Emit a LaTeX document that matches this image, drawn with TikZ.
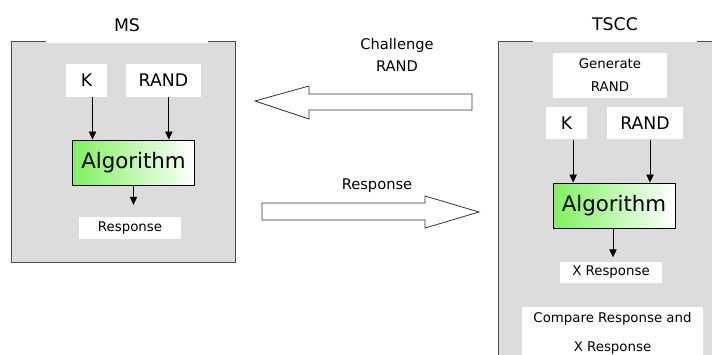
\documentclass[tikz,border=0pt]{standalone}
\usepackage{fontspec}
\setmainfont{DejaVu Sans}
\usetikzlibrary{positioning,arrows.meta}
\definecolor{framegray}{RGB}{220,220,220}
\definecolor{algogreen}{RGB}{128,240,96}
\tikzset{every picture/.style={line width=0.75pt}}
\tikzset{
    frame/.style={draw=black!70, fill=framegray},
    title/.style={fill=white, inner sep=0pt, minimum width=122pt, minimum height=27pt, font=\fontsize{13}{15}\selectfont},
    inbox/.style={fill=white, inner sep=0pt, minimum height=24.5pt, font=\fontsize{13}{15}\selectfont},
    algo/.style={draw, left color=algogreen, right color=white, inner sep=0pt, minimum width=92pt, minimum height=33.75pt, font=\fontsize{16}{18}\selectfont},
    outbox/.style={fill=white, inner sep=0pt, minimum width=76.5pt, minimum height=16pt, font=\fontsize{10}{12}\selectfont},
    msg/.style={align=center, font=\fontsize{11}{17}\selectfont},
    flow/.style={-{Triangle[length=6pt,width=5.5pt]}, line width=0.6pt},
    bigarrow/.style={draw=black!80, fill=white, line width=0.6pt}}

\begin{document}
\begin{tikzpicture}[x=0.75pt,y=0.75pt,yscale=-1,xscale=1]
            \useasboundingbox (0,0) rectangle (712,354);

            %MS side
            \draw[frame] (11,41) rectangle (235,262);
            \node[title] (ms) at (127,25) {MS};
            \node[inbox, minimum width=30.75pt] (msk) at (86.5,80.5) {K};
            \node[inbox, minimum width=56.25pt] (msrand) at (163.5,80.5) {RAND};
            \node[algo] (msalgo) at (133.5,162.5) {Algorithm};
            \node[outbox] (msresp) at (130,228) {Response};
            \draw[flow] ([xshift=4.5pt]msk.south) -- ([xshift=4.5pt]msk.south |- msalgo.north);
            \draw[flow] ([xshift=4pt]msrand.south) -- ([xshift=4pt]msrand.south |- msalgo.north);
            \draw[flow, shorten >=9pt] (msalgo.south) -- (msalgo.south |- msresp.north);

            %TSCC side
            \draw[frame] (498,41) rectangle (730,370);
            \node[title, minimum width=123pt] (tscc) at (615,24) {TSCC};
            \node[fill=white, inner sep=0pt, minimum width=85.5pt, minimum height=33.75pt, align=center, font=\fontsize{10}{17}\selectfont] (gen) at (610,75) {Generate\\RAND};
            \node[inbox, minimum width=30.75pt] (tk) at (566.5,123) {K};
            \node[inbox, minimum width=57pt] (trand) at (645,123) {RAND};
            \node[algo, minimum width=91.5pt] (talgo) at (614,205.5) {Algorithm};
            \node[outbox] (xresp) at (611,272.5) {X Response};
            \node[fill=white, inner sep=0pt, minimum width=135.75pt, minimum height=40pt, anchor=north, align=center, font=\fontsize{10}{21.75}\selectfont] (cmp) at (612.5,306) {Compare Response and\\X Response};
            \draw[flow] ([xshift=5pt]tk.south) -- ([xshift=5pt]tk.south |- talgo.north);
            \draw[flow] ([xshift=3.75pt]trand.south) -- ([xshift=3.75pt]trand.south |- talgo.north);
            \draw[flow, shorten >=3pt] ([xshift=-0.75pt]talgo.south) -- ([xshift=-0.75pt]talgo.south |- xresp.north);

            %Messages
            \draw[bigarrow] (472,94) -- (309,94) -- (309,86) -- (255,101) -- (309,119) -- (309,110) -- (472,110) -- cycle;
            \node[msg] (chal) at (397,55) {Challenge\\RAND};
            \draw[bigarrow] (262,203) -- (425,203) -- (425,196) -- (479,212) -- (425,228) -- (425,220) -- (262,220) -- cycle;
            \node[msg] (resp) at (377,186) {Response};
\end{tikzpicture}
\end{document}
